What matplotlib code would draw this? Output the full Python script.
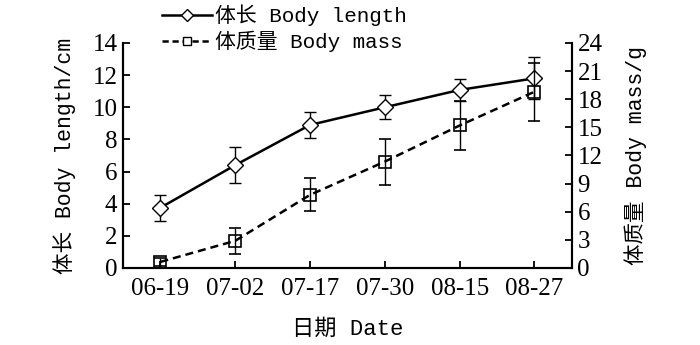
import matplotlib
matplotlib.use("Agg")
import matplotlib.pyplot as plt
from matplotlib.lines import Line2D
import numpy as np

dates = ["06-19", "07-02", "07-17", "07-30", "08-15", "08-27"]
body_length = [3.75, 6.4, 8.9, 10.0, 11.08, 11.8]
body_length_err = [0.8, 1.1, 0.8, 0.75, 0.7, 1.3]
body_mass = [0.65, 2.9, 7.8, 11.35, 15.2, 18.8]
body_mass_err = [0.4, 1.4, 1.75, 2.45, 2.6, 3.1]
legend_labels = ['体长 Body length', '体质量 Body mass']

label_font = ['Liberation Mono', 'Noto Sans CJK SC']
tick_font = 'Liberation Serif'
dash = (0, (3.2, 2))

fig = plt.figure(figsize=(7.0, 3.45), dpi=100)
ax = fig.add_axes([0.1757, 0.2232, 0.817 - 0.1757, 0.8754 - 0.2232])
ax2 = ax.twinx()

x = np.arange(len(dates))

ax.errorbar(x, body_length, yerr=body_length_err, color='black', lw=1.8,
            marker='D', markersize=8, markerfacecolor='white', markeredgecolor='black',
            markeredgewidth=1.0, ecolor='black', elinewidth=1.0, capsize=4, capthick=1.0,
            zorder=3)
ax2.errorbar(x, body_mass, yerr=body_mass_err, color='black', lw=1.8, linestyle=dash,
             marker='s', markersize=9, markerfacecolor='none', markeredgecolor='black',
             markeredgewidth=1.2, ecolor='black', elinewidth=1.0, capsize=4, capthick=1.0,
             zorder=3)

ax.set_xlim(-0.5, 5.5)
ax.set_ylim(0, 14)
ax2.set_ylim(0, 24)
ax.set_yticks(np.arange(0, 15, 2))
ax2.set_yticks(np.arange(0, 25, 3))
ax.set_xticks(x)
ax.set_xticklabels(dates)

for a in (ax, ax2):
    a.spines['top'].set_visible(False)
    for s in a.spines.values():
        s.set_linewidth(1.5)
    a.tick_params(direction='in', length=5, width=1.3, labelsize=18, pad=4)
    for lab in a.get_xticklabels() + a.get_yticklabels():
        lab.set_fontfamily(tick_font)
ax.tick_params(axis='x', pad=7)

ax.set_ylabel('体长 Body length/cm', fontsize=15.5, family=label_font, labelpad=12)
ax2.set_ylabel('体质量 Body mass/g', fontsize=15.5, family=label_font, labelpad=16)
ax.set_xlabel('日期 Date', fontsize=16, family=label_font, labelpad=14)

handles = [
    Line2D([], [], color='black', lw=1.8, marker='D', markersize=6,
           markerfacecolor='white', markeredgecolor='black', markeredgewidth=1.0),
    Line2D([], [], color='black', lw=1.8, linestyle=(0, (2.5, 1.5)), marker='s', markersize=6,
           markerfacecolor='white', markeredgecolor='black', markeredgewidth=1.0),
]
fig.legend(handles=handles, labels=legend_labels,
           loc='upper left', bbox_to_anchor=(0.21, 1.03), frameon=False,
           prop={'family': label_font, 'size': 15}, handlelength=2.4,
           handletextpad=0.15, labelspacing=0.25, borderpad=0.2)

fig.savefig('out.png', dpi=100)
